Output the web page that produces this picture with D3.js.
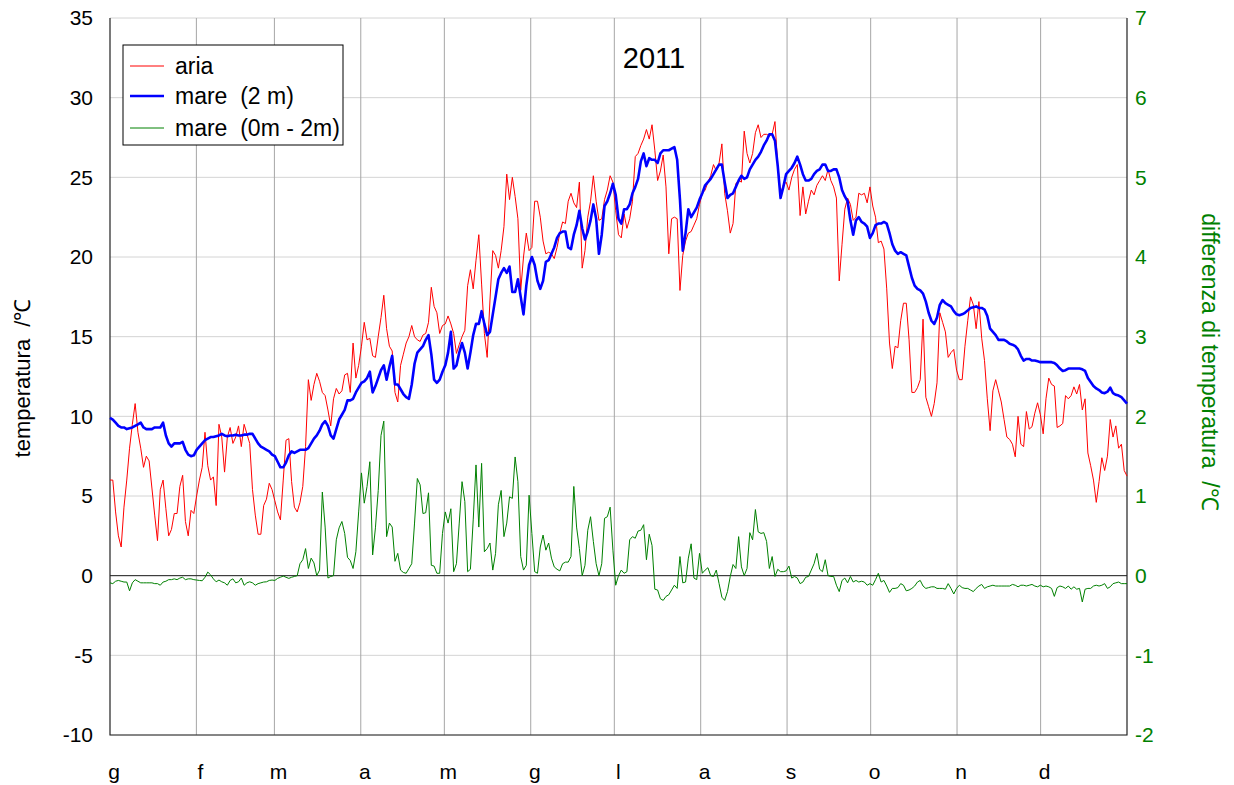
<!DOCTYPE html>
<html><head><meta charset="utf-8">
<script src="https://cdn.jsdelivr.net/npm/d3@7"></script>
<style>
body{margin:0;background:#fff}
svg{display:block}
text{font-family:"Liberation Sans",Arial,sans-serif}
</style>
</head><body>
<svg id="chart" width="1234" height="785"></svg>
<script>
const title = "2011";
const monthLabels = ["g","f","m","a","m","g","l","a","s","o","n","d"];
const monthDays = [31,28,31,30,31,30,31,31,30,31,30,31];
const leftTicks = [-10,-5,0,5,10,15,20,25,30,35];
const rightTicks = [-2,-1,0,1,2,3,4,5,6,7];
const seriesNames = ["aria","mare  (2 m)","mare  (0m - 2m)"];

// daily air temperature (°C)
const aria = [].concat(
 [6.0,6.0,4.0,2.5,1.8,4.3,6.0,8.0,9.5,10.8,9.0,8.0,6.8,7.5,7.2,5.5,3.8,2.2,5.4,6.0,4.2,2.5,2.9,3.9,3.9,5.6,6.3,3.4,2.5,4.1,3.9],
 [5.0,6.0,6.8,9.0,6.9,6.0,6.2,4.4,9.5,8.7,6.5,8.7,9.3,8.3,8.7,9.4,8.1,9.5,8.9,8.3,5.4,3.8,2.6,2.6,4.4,4.8,5.8,5.4],
 [4.7,4.0,3.5,6.0,8.5,8.6,5.9,4.3,4.0,4.6,5.6,8.1,12.3,11.0,12.0,12.7,12.2,11.5,11.3,10.4,9.4,11.1,11.75,11.4,11.6,12.6,12.7,11.5,14.6,12.4,13.2],
 [14.4,15.9,14.8,14.9,13.8,13.7,15.0,16.2,17.6,15.5,14.4,14.1,11.5,10.9,13.2,13.9,14.6,15.0,15.7,15.0,14.8,14.7,15.1,15.2,15.9,18.1,16.9,16.5,15.2,15.7],
 [15.8,16.3,15.8,15.2,13.95,14.5,15.0,15.4,18.2,19.2,18.0,19.8,21.4,18.3,15.2,13.7,17.3,20.4,20.1,19.3,20.4,21.9,25.2,23.6,25.0,23.8,22.4,17.9,20.0,21.5,20.4],
 [20.6,23.5,23.5,22.5,21.0,20.2,20.3,20.2,19.9,20.6,21.5,22.2,22.1,23.5,24.0,23.4,23.1,24.7,19.3,20.4,22.5,23.5,25.1,23.5,22.3,22.4,23.6,24.2,25.1,24.7],
 [22.9,21.4,21.2,22.7,21.8,22.4,23.5,26.3,26.5,27.0,27.4,28.0,27.4,28.3,26.7,24.8,25.4,26.4,24.4,20.2,22.4,22.5,22.4,17.9,20.1,21.0,21.5,21.6,22.0,22.4,23.3],
 [24.0,24.2,24.7,25.1,25.8,25.4,25.9,27.1,24.0,22.9,21.5,22.1,24.6,24.8,24.7,27.9,26.5,25.9,26.5,27.8,28.3,27.5,27.7,27.7,27.6,27.7,28.5,25.8,24.0,24.5,24.7],
 [24.2,25.0,25.5,25.8,22.6,24.4,22.7,23.5,24.2,23.9,24.5,24.8,25.1,24.8,25.5,24.8,24.4,23.7,18.5,20.8,23.0,23.7,23.3,22.3,22.5,24.0,23.9,24.0,23.4,24.4],
 [23.2,22.5,20.9,21.0,20.5,18.0,14.6,13.0,14.4,14.3,16.0,17.1,17.1,14.8,11.5,11.5,11.8,12.3,16.1,11.2,10.6,10.0,10.8,12.1,16.5,15.9,15.3,13.7,14.0,14.2,12.9],
 [12.3,12.3,14.4,16.0,17.5,17.0,15.5,17.2,14.9,13.5,11.1,9.1,11.6,12.3,11.6,10.9,9.8,8.7,8.55,8.25,7.46,10.0,8.25,8.1,10.3,9.2,9.35,10.2,10.85,10.1],
 [8.9,11.1,12.4,12.0,11.9,9.3,9.4,9.55,11.3,11.1,11.3,11.85,11.4,12.0,10.4,11.1,7.7,6.9,6.0,4.6,5.9,7.4,6.6,7.5,9.8,8.7,9.4,8.0,8.25,6.6,6.25]
);

// daily sea temperature at 2 m (°C)
const mare2m = [].concat(
 [9.9,9.8,9.6,9.4,9.3,9.3,9.2,9.25,9.3,9.4,9.5,9.6,9.3,9.2,9.2,9.2,9.3,9.3,9.3,9.6,8.8,8.3,8.1,8.3,8.3,8.3,8.4,7.9,7.6,7.5,7.55],
 [7.9,8.1,8.3,8.5,8.6,8.7,8.7,8.75,8.8,8.9,8.8,8.75,8.8,8.8,8.85,8.8,8.8,8.85,8.85,8.9,8.9,8.6,8.3,8.1,8.0,7.9,7.8,7.6],
 [7.5,7.15,6.8,6.8,7.1,7.56,7.8,7.7,7.8,7.9,7.9,7.9,8.0,8.3,8.6,8.8,9.1,9.5,9.7,9.4,8.8,8.6,9.2,9.8,10.1,10.4,11.0,11.0,11.1,11.5,11.8],
 [12.1,12.2,12.4,12.8,11.5,11.9,12.4,12.9,13.2,12.3,13.1,13.8,12.0,12.0,11.7,11.4,11.2,11.1,12.0,13.3,14.0,14.2,14.4,14.8,15.1,13.9,12.3,12.1,12.3,12.8],
 [13.2,14.0,15.3,13.0,13.2,14.0,14.6,14.0,13.0,14.0,15.1,15.8,15.8,16.6,15.8,15.1,15.3,16.4,17.5,18.6,19.0,19.3,19.0,19.4,17.8,17.8,18.6,17.5,16.4,18.2,19.5],
 [20.0,19.5,18.5,18.0,18.5,19.7,19.8,20.2,20.6,21.2,21.5,21.6,21.6,20.6,20.5,21.4,22.0,22.9,21.8,21.1,21.6,22.3,23.3,22.4,20.2,21.4,23.2,23.5,24.0,24.6],
 [23.9,22.4,22.1,23.0,23.0,23.3,24.0,24.4,24.9,26.0,26.5,25.7,26.2,26.1,26.1,25.9,26.5,26.7,26.7,26.7,26.8,26.9,26.1,23.6,20.4,21.5,23.0,22.5,22.8,23.1,23.6],
 [24.0,24.5,24.7,24.9,25.2,25.5,25.8,25.8,24.7,23.7,23.9,24.0,24.4,24.8,25.1,24.9,25.0,25.5,25.8,26.1,26.3,26.6,27.0,27.3,27.7,27.7,27.3,25.7,23.7,24.4,25.2],
 [25.4,25.6,25.9,26.3,25.8,25.2,24.8,24.8,24.9,25.2,25.4,25.5,25.8,25.8,25.4,25.4,25.5,25.5,25.0,24.2,23.8,23.5,22.3,21.4,22.3,22.5,22.2,22.1,21.9,21.2],
 [21.5,22.0,22.1,22.1,22.2,22.1,21.5,20.8,20.4,20.2,20.3,20.2,20.1,19.4,18.7,18.2,18.0,17.9,17.7,17.2,16.5,16.0,15.8,16.2,17.0,17.3,17.1,17.0,16.9,16.6,16.4],
 [16.35,16.4,16.5,16.65,16.8,16.85,16.9,16.8,16.8,16.7,16.3,15.5,15.3,15.1,14.8,14.8,14.8,14.7,14.55,14.5,14.4,14.2,13.8,13.5,13.6,13.6,13.5,13.5,13.45,13.4],
 [13.4,13.4,13.4,13.4,13.35,13.2,13.0,12.85,12.9,13.0,13.0,13.0,13.0,13.0,12.95,12.85,12.4,12.15,11.9,11.75,11.65,11.5,11.45,11.55,11.8,11.45,11.35,11.3,11.2,11.0,10.8]
);

// daily sea temperature difference 0 m - 2 m (°C, right axis)
const mareDiff = [].concat(
 [-0.09,-0.1,-0.07,-0.06,-0.07,-0.08,-0.08,-0.19,-0.09,-0.05,-0.07,-0.09,-0.09,-0.09,-0.09,-0.09,-0.1,-0.1,-0.12,-0.08,-0.07,-0.05,-0.05,-0.04,-0.05,-0.03,-0.02,-0.05,-0.04,-0.04,-0.05],
 [-0.055,-0.06,-0.064,-0.02,0.045,0.01,-0.04,-0.077,-0.055,-0.077,-0.09,-0.12,-0.06,-0.04,-0.09,-0.077,-0.03,-0.12,-0.09,-0.077,-0.09,-0.12,-0.1,-0.09,-0.08,-0.077,-0.06,-0.055],
 [-0.06,-0.034,-0.02,-0.005,-0.02,-0.034,-0.02,-0.01,0.0,0.15,0.2,0.34,0.09,0.22,0.16,0.0,0.07,1.05,0.61,-0.03,-0.01,0.0,0.45,0.6,0.68,0.53,0.23,0.19,0.09,0.3,0.8],
 [1.29,0.91,1.12,1.43,0.26,0.6,1.07,1.76,1.94,0.49,0.66,0.61,0.18,0.28,0.07,0.04,0.03,0.09,0.15,0.66,1.22,1.14,0.78,0.79,1.04,0.13,0.12,0.03,0.03,0.53],
 [0.8,0.66,0.84,0.05,0.15,0.66,1.18,0.93,0.05,0.08,0.7,1.39,0.61,1.41,0.3,0.34,0.41,0.07,0.28,0.89,1.07,0.49,0.66,0.99,0.97,1.49,1.18,0.24,0.07,0.13,1.01],
 [0.53,0.05,0.03,0.36,0.51,0.32,0.41,0.22,0.11,0.08,0.06,0.15,0.17,0.17,0.24,1.12,0.61,0.34,0.0,0.13,0.57,0.74,0.43,0.15,0.0,0.15,0.72,0.74,0.86,0.32],
 [-0.12,0.0,0.07,0.03,0.05,0.45,0.49,0.47,0.56,0.57,0.64,0.2,0.52,0.38,-0.17,-0.18,-0.29,-0.31,-0.26,-0.24,-0.18,-0.12,-0.16,0.24,-0.09,-0.08,0.22,0.4,-0.03,-0.05,0.28],
 [0.03,0.07,0.1,0.0,-0.01,0.07,-0.1,-0.27,-0.31,-0.2,-0.01,0.14,0.09,0.49,0.11,0.0,0.09,0.54,0.45,0.83,0.55,0.53,0.54,0.43,0.09,0.24,-0.01,0.08,0.05,0.05,0.06],
 [0.12,-0.03,-0.01,-0.03,-0.1,-0.08,-0.02,-0.01,0.07,0.15,0.28,0.08,0.05,0.2,0.0,-0.01,-0.01,-0.12,-0.2,-0.06,-0.03,-0.09,-0.01,-0.08,-0.06,-0.08,-0.07,-0.08,-0.12,-0.1],
 [-0.12,-0.05,0.03,-0.08,-0.06,-0.13,-0.21,-0.16,-0.16,-0.15,-0.1,-0.12,-0.19,-0.18,-0.16,-0.13,-0.08,-0.06,-0.13,-0.16,-0.15,-0.14,-0.14,-0.16,-0.16,-0.16,-0.17,-0.1,-0.16,-0.23,-0.16],
 [-0.12,-0.15,-0.16,-0.16,-0.18,-0.2,-0.16,-0.13,-0.11,-0.16,-0.14,-0.13,-0.12,-0.13,-0.13,-0.13,-0.13,-0.13,-0.13,-0.11,-0.12,-0.14,-0.12,-0.12,-0.13,-0.12,-0.11,-0.13,-0.14,-0.12],
 [-0.14,-0.13,-0.14,-0.16,-0.26,-0.15,-0.13,-0.14,-0.16,-0.13,-0.17,-0.14,-0.17,-0.16,-0.33,-0.17,-0.16,-0.16,-0.13,-0.12,-0.13,-0.12,-0.1,-0.16,-0.14,-0.1,-0.09,-0.08,-0.1,-0.1,-0.1]
);

const M = {left:110, right:1127, top:18, bottom:735};
const FONT = '"Liberation Sans",Arial,sans-serif';
const svg = d3.select("#chart");

const nDays = d3.sum(monthDays);
const x = d3.scaleLinear().domain([0, nDays]).range([M.left, M.right]);
const yL = d3.scaleLinear().domain([-10, 35]).range([M.bottom, M.top]);
const yR = d3.scaleLinear().domain([-2, 7]).range([M.bottom, M.top]);
const monthStarts = d3.cumsum([0].concat(monthDays.slice(0, -1)));
const dayX = i => x(i * nDays / (aria.length - 1));

// horizontal gridlines
svg.append("g").selectAll("line").data(leftTicks).join("line")
  .attr("x1", M.left).attr("x2", M.right)
  .attr("y1", d => yL(d)).attr("y2", d => yL(d))
  .attr("stroke", "#d4d4d4").attr("stroke-width", 1);

// vertical month gridlines
svg.append("g").selectAll("line").data(monthStarts.slice(1)).join("line")
  .attr("x1", d => x(d)).attr("x2", d => x(d))
  .attr("y1", M.top).attr("y2", M.bottom)
  .attr("stroke", "#a6a6a6").attr("stroke-width", 1);

// zero line
svg.append("line").attr("x1", M.left).attr("x2", M.right)
  .attr("y1", yL(0)).attr("y2", yL(0)).attr("stroke", "#222").attr("stroke-width", 1);

// frame (left, bottom, right)
svg.append("path")
  .attr("d", `M${M.left},${M.top}V${M.bottom}H${M.right}V${M.top}`)
  .attr("fill", "none").attr("stroke", "#222").attr("stroke-width", 1.2);

// axes labels
const fmt = d => String(d);
const axL = d3.axisLeft(yL).tickValues(leftTicks).tickSize(0).tickPadding(17).tickFormat(fmt);
const gL = svg.append("g").attr("transform", `translate(${M.left},0)`).call(axL);
gL.select(".domain").remove();
gL.selectAll("text").attr("font-size", 21).attr("fill", "#000").attr("font-family", FONT);

const axR = d3.axisRight(yR).tickValues(rightTicks).tickSize(0).tickPadding(8).tickFormat(fmt);
const gR = svg.append("g").attr("transform", `translate(${M.right},0)`).call(axR);
gR.select(".domain").remove();
gR.selectAll("text").attr("font-size", 21).attr("fill", "#008000").attr("font-family", FONT);

// month labels
svg.append("g").selectAll("text").data(monthLabels).join("text")
  .attr("x", (d, i) => x(monthStarts[i]) + 4)
  .attr("y", 779)
  .attr("text-anchor", "middle").attr("font-size", 21).attr("fill", "#000")
  .text(d => d);

// series
const lineL = d3.line().x((d, i) => dayX(i)).y(d => yL(d));
const lineR = d3.line().x((d, i) => dayX(i)).y(d => yR(d));

svg.append("path").datum(aria).attr("d", lineL)
  .attr("fill", "none").attr("stroke", "#ff0000").attr("stroke-width", 1).attr("stroke-linejoin", "round");
svg.append("path").datum(mare2m).attr("d", lineL)
  .attr("fill", "none").attr("stroke", "#0000ff").attr("stroke-width", 2.6).attr("stroke-linejoin", "round");
svg.append("path").datum(mareDiff).attr("d", lineR)
  .attr("fill", "none").attr("stroke", "#008000").attr("stroke-width", 1).attr("stroke-linejoin", "round");

// title
svg.append("text").attr("x", 654).attr("y", 68).attr("text-anchor", "middle")
  .attr("font-size", 29).attr("fill", "#000").text(title);

// axis titles
svg.append("text").attr("transform", "translate(30,378) rotate(-90)")
  .attr("text-anchor", "middle").attr("font-size", 22).attr("fill", "#000")
  .style("white-space", "pre").text("temperatura  /\u2103");
svg.append("text").attr("transform", "translate(1202,362) rotate(90)")
  .attr("text-anchor", "middle").attr("font-size", 23).attr("fill", "#008000")
  .style("white-space", "pre").text("differenza di temperatura  /\u2103");

// legend
const leg = svg.append("g");
leg.append("rect").attr("x", 123).attr("y", 45).attr("width", 220).attr("height", 100)
  .attr("fill", "#fff").attr("stroke", "#000").attr("stroke-width", 1);
const legColors = ["#ff0000", "#0000ff", "#008000"];
const legWidths = [1, 2.6, 1];
const legY = [66, 96, 128];
seriesNames.forEach((n, i) => {
  leg.append("line").attr("x1", 130).attr("x2", 164).attr("y1", legY[i]).attr("y2", legY[i])
    .attr("stroke", legColors[i]).attr("stroke-width", legWidths[i]);
  leg.append("text").attr("x", 175).attr("y", legY[i] + 8).attr("font-size", 23).attr("fill", "#000")
    .style("white-space", "pre").text(n);
});
</script>
</body></html>
